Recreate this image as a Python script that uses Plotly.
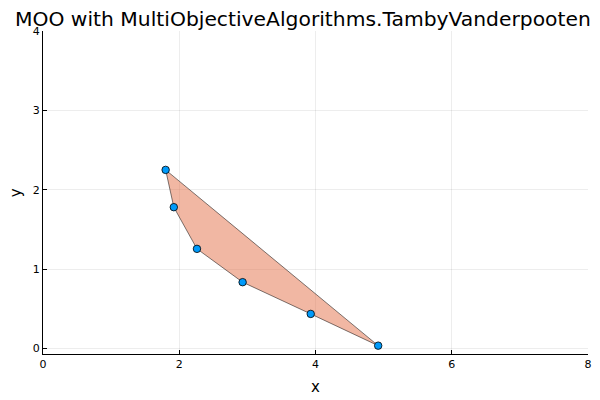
import plotly.graph_objects as go

xs = [1.80, 1.92, 2.26, 2.93, 3.93, 4.92]
ys = [2.25, 1.78, 1.255, 0.835, 0.435, 0.035]
x_ticks = [0, 2, 4, 6, 8]
y_ticks = [0, 1, 2, 3, 4]

poly_x = xs + [xs[0]]
poly_y = ys + [ys[0]]

fig = go.Figure()
fig.add_trace(go.Scatter(
    x=poly_x, y=poly_y, mode="lines", fill="toself",
    fillcolor="rgba(227,111,71,0.5)",
    line=dict(color="rgba(0,0,0,0.5)", width=1),
    showlegend=False, hoverinfo="skip",
))
fig.add_trace(go.Scatter(
    x=xs, y=ys, mode="markers",
    marker=dict(color="#009AFA", size=7.5, line=dict(color="black", width=0.8)),
    showlegend=False,
))

axis_common = dict(
    showgrid=True, gridcolor="rgba(0,0,0,0.07)", gridwidth=0.5,
    showline=True, linecolor="black", linewidth=1,
    ticks="inside", ticklen=4, tickcolor="black",
    tickfont=dict(family="DejaVu Sans", size=11, color="black"),
    zeroline=False, mirror=False, automargin=False,
)

fig.update_layout(
    width=600, height=400,
    paper_bgcolor="white", plot_bgcolor="white",
    margin=dict(l=35, r=20, t=23, b=54),
    title=dict(text="MOO with MultiObjectiveAlgorithms.TambyVanderpooten",
               x=7 / 600, xref="container", xanchor="left",
               y=0.974, yref="container", yanchor="middle",
               font=dict(family="DejaVu Sans", size=20.3, color="black"),
               automargin=False),
    xaxis=dict(range=[0, 8], tickvals=x_ticks,
               title=dict(text="x", font=dict(family="DejaVu Sans", size=15, color="black"), standoff=11),
               **axis_common),
    yaxis=dict(range=[-0.07, 4], tickvals=y_ticks, **axis_common),
    annotations=[dict(
        text="y", textangle=-90, showarrow=False,
        xref="paper", yref="paper", x=-0.05, y=0.5,
        xanchor="center", yanchor="middle",
        font=dict(family="DejaVu Sans", size=15, color="black"),
    )],
)

fig.write_html("out.html")
